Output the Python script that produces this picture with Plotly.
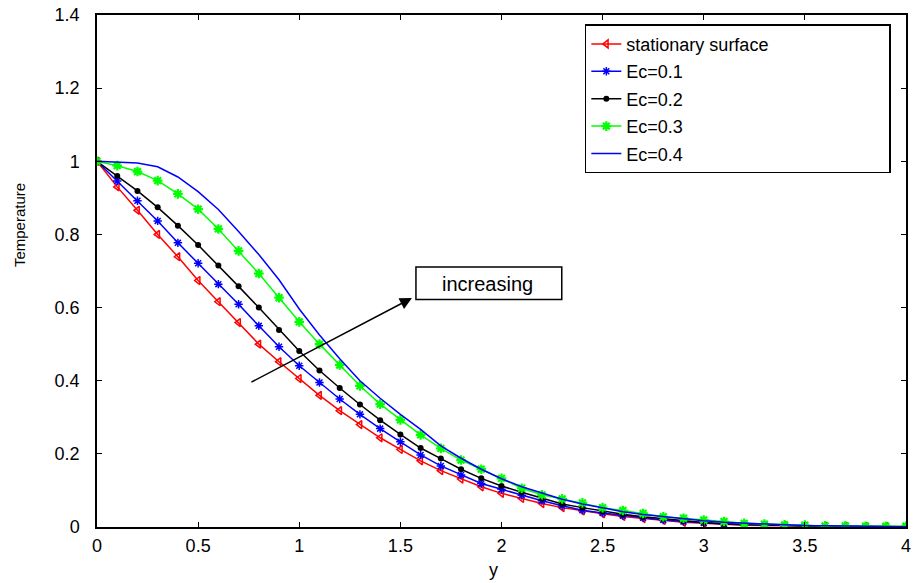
import plotly.graph_objects as go

# distance from the surface, 0 to 4 in steps of 0.1
y_vals = [round(i * 0.1, 1) for i in range(41)]

temp_stationary = [
    1.0, 0.93, 0.866, 0.80, 0.739, 0.674, 0.616, 0.559, 0.50, 0.452,
    0.406, 0.36, 0.318, 0.28, 0.244, 0.212, 0.181, 0.154, 0.131, 0.11,
    0.092, 0.078, 0.064, 0.053, 0.044, 0.036, 0.029, 0.023, 0.018, 0.013,
    0.01, 0.007, 0.005, 0.004, 0.003, 0.002, 0.002, 0.001, 0.001, 0.001, 0.001,
]
temp_ec01 = [
    1.0, 0.946, 0.892, 0.837, 0.777, 0.721, 0.664, 0.609, 0.55, 0.493,
    0.441, 0.395, 0.35, 0.308, 0.269, 0.233, 0.197, 0.167, 0.142, 0.119,
    0.103, 0.087, 0.072, 0.058, 0.046, 0.038, 0.031, 0.025, 0.019, 0.015,
    0.011, 0.008, 0.006, 0.005, 0.004, 0.003, 0.002, 0.002, 0.001, 0.001, 0.001,
]
temp_ec02 = [
    1.0, 0.96, 0.919, 0.874, 0.824, 0.771, 0.715, 0.658, 0.60, 0.539,
    0.481, 0.428, 0.38, 0.335, 0.292, 0.253, 0.216, 0.187, 0.158, 0.133,
    0.112, 0.095, 0.078, 0.063, 0.053, 0.043, 0.035, 0.028, 0.022, 0.017,
    0.012, 0.009, 0.007, 0.005, 0.004, 0.003, 0.002, 0.002, 0.001, 0.001, 0.001,
]
temp_ec03 = [
    1.0, 0.988, 0.972, 0.947, 0.911, 0.869, 0.815, 0.755, 0.693, 0.627,
    0.561, 0.50, 0.443, 0.386, 0.336, 0.293, 0.252, 0.215, 0.183, 0.158,
    0.133, 0.106, 0.088, 0.077, 0.066, 0.053, 0.045, 0.037, 0.028, 0.024,
    0.019, 0.015, 0.01, 0.008, 0.006, 0.005, 0.003, 0.003, 0.002, 0.002, 0.002,
]
temp_ec04 = [
    1.0, 0.998, 0.995, 0.985, 0.957, 0.917, 0.868, 0.808, 0.745, 0.676,
    0.596, 0.525, 0.46, 0.40, 0.352, 0.308, 0.267, 0.222, 0.188, 0.158,
    0.132, 0.11, 0.092, 0.076, 0.063, 0.052, 0.042, 0.034, 0.028, 0.022,
    0.017, 0.013, 0.01, 0.008, 0.006, 0.004, 0.003, 0.002, 0.002, 0.001, 0.001,
]

series_names = ["stationary surface", "Ec=0.1", "Ec=0.2", "Ec=0.3", "Ec=0.4"]
series_vals = [temp_stationary, temp_ec01, temp_ec02, temp_ec03, temp_ec04]
colors = ["red", "blue", "black", "#00ff00", "blue"]
markers = [
    dict(symbol="triangle-left-open", size=7, color="red", line=dict(width=1.5, color="red")),
    dict(symbol="asterisk-open", size=7, color="blue", line=dict(width=1.5, color="blue")),
    dict(symbol="circle", size=6, color="black"),
    dict(symbol="asterisk-open", size=8, color="#00ff00", line=dict(width=2.2, color="#00ff00")),
    None,
]

# pad legend names with non-breaking spaces so the box is as wide as the original
pad = "\u00a0" * 23

fig = go.Figure()
for i, (name, vals, color, marker) in enumerate(zip(series_names, series_vals, colors, markers)):
    label = name + (pad if i == 0 else "")
    fig.add_trace(go.Scatter(
        x=y_vals, y=vals, name=label,
        mode="lines+markers" if marker else "lines",
        line=dict(color=color, width=1.5),
        marker=marker,
        legendgroup=f"g{i}",
    ))

font = "Liberation Sans, Arial, sans-serif"

# arrow and the "increasing" label
fig.add_annotation(
    x=1.557, y=0.626, ax=0.756, ay=0.394, xref="x", yref="y", axref="x", ayref="y",
    text="", showarrow=True, arrowhead=2, arrowsize=1.6, arrowwidth=1.5, arrowcolor="black",
)
fig.add_shape(type="rect", x0=1.577, x1=2.298, y0=0.622, y1=0.711,
              xref="x", yref="y", line=dict(color="black", width=1.5), fillcolor="white")
fig.add_annotation(x=1.93, y=0.664, xref="x", yref="y", text="increasing", showarrow=False,
                   font=dict(size=20, color="black", family=font))

# axis titles placed like the original
fig.add_annotation(x=-0.095, y=0.59, xref="paper", yref="paper", text="Temperature",
                   xanchor="center", yanchor="middle",
                   textangle=-90, showarrow=False, font=dict(size=15, family=font))
fig.add_annotation(x=0.49, y=-0.084, xref="paper", yref="paper", text="y",
                   xanchor="center", yanchor="middle",
                   showarrow=False, font=dict(size=18, family=font))

fig.update_layout(
    width=917, height=583,
    margin=dict(l=97, r=11, t=15, b=56),
    plot_bgcolor="white", paper_bgcolor="white",
    font=dict(family=font, size=15, color="black"),
    showlegend=True,
    legend=dict(
        x=0.603, y=0.982, xanchor="left", yanchor="top",
        bgcolor="white", bordercolor="black", borderwidth=1.5,
        font=dict(size=18, family=font), tracegroupgap=1,
    ),
    xaxis=dict(
        range=[0, 4], tickvals=[0, 0.5, 1, 1.5, 2, 2.5, 3, 3.5, 4],
        ticktext=["0", "0.5", "1", "1.5", "2", "2.5", "3", "3.5", "4"],
        ticks="inside", ticklen=5, tickcolor="black", showgrid=False, zeroline=False,
        showline=True, linecolor="black", linewidth=1.5, mirror="ticks",
        automargin=False, ticklabelstandoff=2, ticklabeloverflow="allow",
        tickfont=dict(size=18),
    ),
    yaxis=dict(
        range=[0, 1.4], tickvals=[0, 0.2, 0.4, 0.6, 0.8, 1, 1.2, 1.4],
        ticktext=["0", "0.2", "0.4", "0.6", "0.8", "1", "1.2", "1.4"],
        ticks="inside", ticklen=5, tickcolor="black", showgrid=False, zeroline=False,
        showline=True, linecolor="black", linewidth=1.5, mirror="ticks",
        automargin=False, ticklabelstandoff=12, ticklabeloverflow="allow",
        tickfont=dict(size=18),
    ),
)

# drop the default 8px body margin so the figure fills the window exactly
fig.write_html("out.html", config={"displayModeBar": False},
               post_script="document.body.style.margin='0';")
